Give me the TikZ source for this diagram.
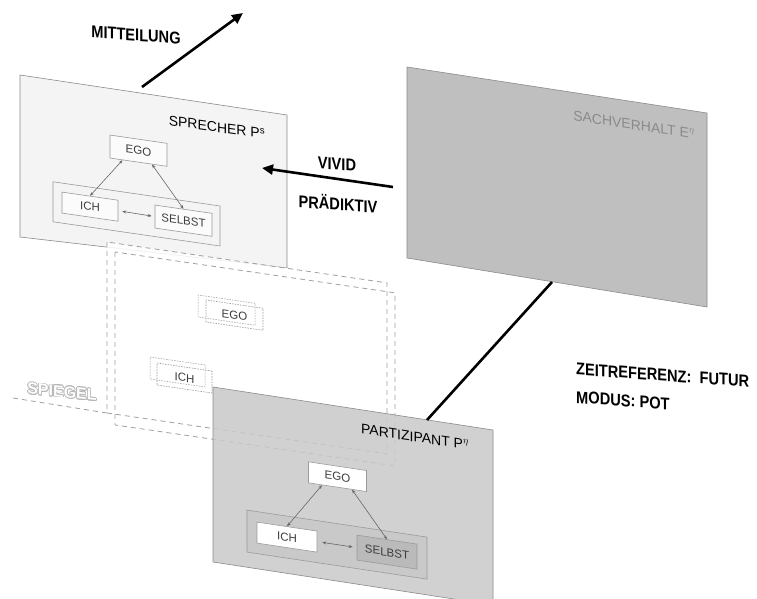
\documentclass[tikz,border=0pt]{standalone}
\usepackage{fontspec}
\setmainfont{Liberation Sans}
\newfontfamily\schmal[FakeStretch=0.86]{Liberation Sans}
\usepackage{contour}
\contourlength{0.7pt}
\usetikzlibrary{arrows.meta}

\definecolor{sprechfill}{HTML}{F4F4F4}
\definecolor{sachfill}{HTML}{BFBFBF}
\definecolor{partfill}{HTML}{C9C9C9}
\definecolor{planeline}{HTML}{8A8A8A}
\definecolor{boxline}{HTML}{9A9A9A}
\definecolor{boxtext}{HTML}{3C3C3C}
\definecolor{bezline}{HTML}{666666}
\definecolor{mirrorline}{HTML}{A0A0A0}
\definecolor{sachtext}{HTML}{8A8A8A}
\definecolor{selbstfill}{HTML}{BABABA}
\definecolor{spiegeltext}{HTML}{B8B8B8}

\begin{document}
\begin{tikzpicture}[x=1pt,y=-1pt,
  box/.style={draw=boxline, line width=0.6pt, inner sep=0pt, text=boxtext,
    font=\fontsize{11.5}{12}\selectfont},
  geist/.style={draw=boxline, line width=0.5pt, dash pattern=on 1.5pt off 1.2pt,
    inner sep=0pt, minimum width=57, minimum height=22},
  bez/.style={draw=bezline, line width=0.6pt,
    {Stealth[length=4pt,width=3pt]}-{Stealth[length=4pt,width=3pt]}},
  pfeil/.style={line width=2.6pt, -{Triangle[length=11pt,width=10pt]}},
  ebene/.style={font=\fontsize{14}{16}\selectfont},
  fett/.style={font=\schmal\bfseries\fontsize{17}{22}\selectfont},
  spiegelstrich/.style={draw=mirrorline, line width=0.8pt, dash pattern=on 5pt off 4pt}]
  \useasboundingbox (0,0) rectangle (757,599);

  % Sachverhalt
  \filldraw[fill=sachfill, draw=planeline, line width=0.6pt]
    (407,67) -- (707,113) -- (707,307) -- (407,258) -- cycle;
  \begin{scope}[shift={(407,67)}, yslant=-0.153, transform shape]
    \node[ebene, text=sachtext] (sachlabel) at (227,23) {SACHVERHALT E\textsuperscript{$\eta$}};
  \end{scope}

  % Sprecher
  \filldraw[fill=sprechfill, draw=planeline, line width=0.6pt]
    (20,75) -- (287,115) -- (287,268) -- (20,237) -- cycle;
  \begin{scope}[shift={(20,75)}, yslant=-0.145, transform shape]
    \node[ebene] (sprecher) at (197,23.4) {SPRECHER P\textsuperscript{s}};
    \node[box, fill=sprechfill, minimum width=167, minimum height=40] (sgruppe) at (116.5,122) {};
    \node[box, fill=white!60!sprechfill, minimum width=57, minimum height=23] (sego) at (118.5,58.5) {EGO};
    \node[box, fill=white!60!sprechfill, minimum width=56, minimum height=21] (sich) at (70,121.5) {ICH};
    \node[box, fill=white!60!sprechfill, minimum width=57, minimum height=23] (sselbst) at (163.5,122) {SELBST};
    \draw[bez] (sich.north) -- ([xshift=-16pt]sego.south);
    \draw[bez] (sselbst.north) -- ([xshift=13.5pt]sego.south);
    \draw[bez, shorten <=4pt, shorten >=3pt] (sich.east) -- (sselbst.west);
  \end{scope}

  % Spiegel
  \begin{scope}[shift={(107,242)}, yslant=-0.146]
    \fill[white, fill opacity=0.85] (0,0) rectangle (280,171);
    \draw[spiegelstrich] (0,0) rectangle (280,171);
    \draw[spiegelstrich] (8,8.8) rectangle (288,181.8);
  \end{scope}
  \begin{scope}[shift={(107,242)}, yslant=-0.146, transform shape]
    \node[geist] (gego1) at (119.5,50.7) {};
    \node[geist, box, draw=boxline, dash pattern=on 1.5pt off 1.2pt, minimum width=57, minimum height=22] (gego2) at (127.5,54.5) {EGO};
    \node[geist, minimum width=55] (gich1) at (70.5,119.7) {};
    \node[geist, box, draw=boxline, dash pattern=on 1.5pt off 1.2pt, minimum width=55, minimum height=22] (gich2) at (77.5,124.7) {ICH};
  \end{scope}
  \coordinate (spiegelende) at (13,398);
  \coordinate (spiegelecke) at (107,413);
  \draw[spiegelstrich] (spiegelende) -- (spiegelecke);
  \node[font=\bfseries\fontsize{16}{18}\selectfont, yslant=-0.1] (spiegel) at (62,392)
    {\contour{spiegeltext}{\textcolor{white}{SPIEGEL}}};

  % Partizipant
  \fill[partfill, fill opacity=0.85] (213,387) -- (493,430) -- (493,605) -- (213,562) -- cycle;
  \draw[planeline, line width=0.6pt] (213,387) -- (493,430) -- (493,605) -- (213,562) -- cycle;
  \begin{scope}[shift={(213,387)}, yslant=-0.15, transform shape]
    \node[ebene] (partizipant) at (202,19.7) {PARTIZIPANT P\textsuperscript{$\eta$}};
    \node[box, fill=partfill, minimum width=180, minimum height=42] (pgruppe) at (124,139) {};
    \node[box, fill=white, minimum width=58, minimum height=21] (pego) at (124.5,71) {EGO};
    \node[box, fill=white, minimum width=60, minimum height=21] (pich) at (74,139) {ICH};
    \node[box, fill=selbstfill, minimum width=60, minimum height=25] (pselbst) at (174,139) {SELBST};
    \draw[bez] (pich.north) -- ([xshift=-15.5pt]pego.south);
    \draw[bez] (pselbst.north) -- ([xshift=14.5pt]pego.south);
    \draw[bez, shorten <=5pt, shorten >=4pt] (pich.east) -- (pselbst.west);
  \end{scope}

  % Pfeile und Linie
  \coordinate (vividstart) at (393,187);
  \coordinate (vividziel) at (262,168);
  \draw[pfeil] (vividstart) -- (vividziel);
  \coordinate (mitstart) at (142,87);
  \coordinate (mitziel) at (243,13);
  \draw[pfeil] (mitstart) -- (mitziel);
  \coordinate (sachfuss) at (552,282);
  \coordinate (partkopf) at (427,420);
  \draw[line width=2.6pt] (sachfuss) -- (partkopf);

  % Beschriftungen
  \node[fett, yslant=-0.07] (mitteilung) at (136,35) {MITTEILUNG};
  \node[fett, yslant=-0.07] (vivid) at (337,164) {VIVID};
  \node[fett, yslant=-0.07] (praedikativ) at (338,203) {PRÄDIKTIV};
  \node[fett, yslant=-0.07, anchor=north west, inner sep=0pt] (zeit) at (576,363)
    {ZEITREFERENZ:\ \ FUTUR};
  \node[fett, yslant=-0.07, anchor=north west, inner sep=0pt] (modus) at (576,391)
    {MODUS: POT};
\end{tikzpicture}
\end{document}
